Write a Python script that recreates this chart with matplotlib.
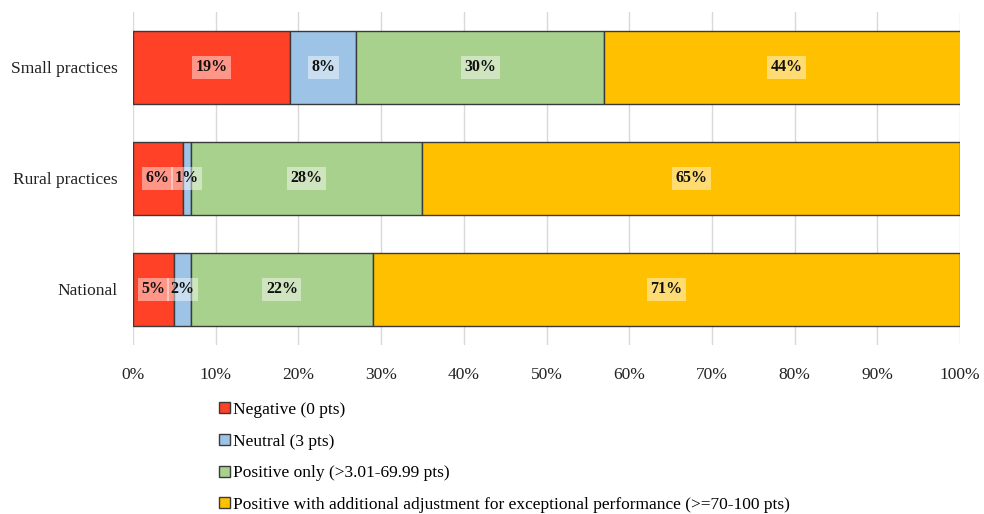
import matplotlib
matplotlib.use("Agg")
import matplotlib.pyplot as plt
from matplotlib.patches import Patch

plt.rcParams['font.family'] = ['Liberation Serif', 'DejaVu Serif']

categories = ["National", "Rural practices", "Small practices"]
series_names = [
    "Negative (0 pts)",
    "Neutral (3 pts)",
    "Positive only (>3.01-69.99 pts)",
    "Positive with additional adjustment for exceptional performance (>=70-100 pts)",
]
negative = [5, 6, 19]
neutral = [2, 1, 8]
positive_only = [22, 28, 30]
positive_exceptional = [71, 65, 44]
series_values = [negative, neutral, positive_only, positive_exceptional]
colors = ["#FF4128", "#9DC3E6", "#A9D18E", "#FFC000"]
xtick_values = list(range(0, 101, 10))
xtick_labels = [f"{v}%" for v in xtick_values]

fig = plt.figure(figsize=(9.84, 5.14), dpi=100)
ax = fig.add_axes([0.1352, 0.3288, 0.8404, 0.6479])

y = list(range(len(categories)))
left = [0] * len(categories)
for name, vals, col in zip(series_names, series_values, colors):
    ax.barh(y, vals, left=left, height=0.66, color=col,
            edgecolor="#3A3A3A", linewidth=1.0, label=name, zorder=2)
    for yi, l, v in zip(y, left, vals):
        ax.text(l + v / 2, yi, f"{v}%", ha="center", va="center",
                fontsize=11.5, fontweight="bold", color="#111111", zorder=4,
                bbox=dict(boxstyle="square,pad=0.22", facecolor="white",
                          edgecolor="none", alpha=0.45))
    left = [a + b for a, b in zip(left, vals)]

ax.set_xlim(0, 100)
ax.set_ylim(-0.5, 2.5)
ax.set_yticks(y)
ax.set_yticklabels(categories, fontsize=12.5)
ax.set_xticks(xtick_values)
ax.set_xticklabels(xtick_labels, fontsize=12.5)
ax.tick_params(axis="both", length=0, colors="#222222")
ax.tick_params(axis="x", pad=16)
ax.tick_params(axis="y", pad=11)
ax.xaxis.grid(True, color="#D9D9D9", linewidth=1.0, zorder=0)
ax.set_axisbelow(True)
for s in ax.spines.values():
    s.set_visible(False)

handles = [Patch(facecolor=c, edgecolor="#3A3A3A", linewidth=1.0) for c in colors]
fig.legend(handles, series_names, loc="upper left",
           bbox_to_anchor=(0.223, 0.218), frameon=False, fontsize=12.5,
           handlelength=0.6, handleheight=0.6, handletextpad=0.2,
           labelspacing=0.9, borderpad=0, borderaxespad=0)

fig.savefig("out.png", dpi=100)
